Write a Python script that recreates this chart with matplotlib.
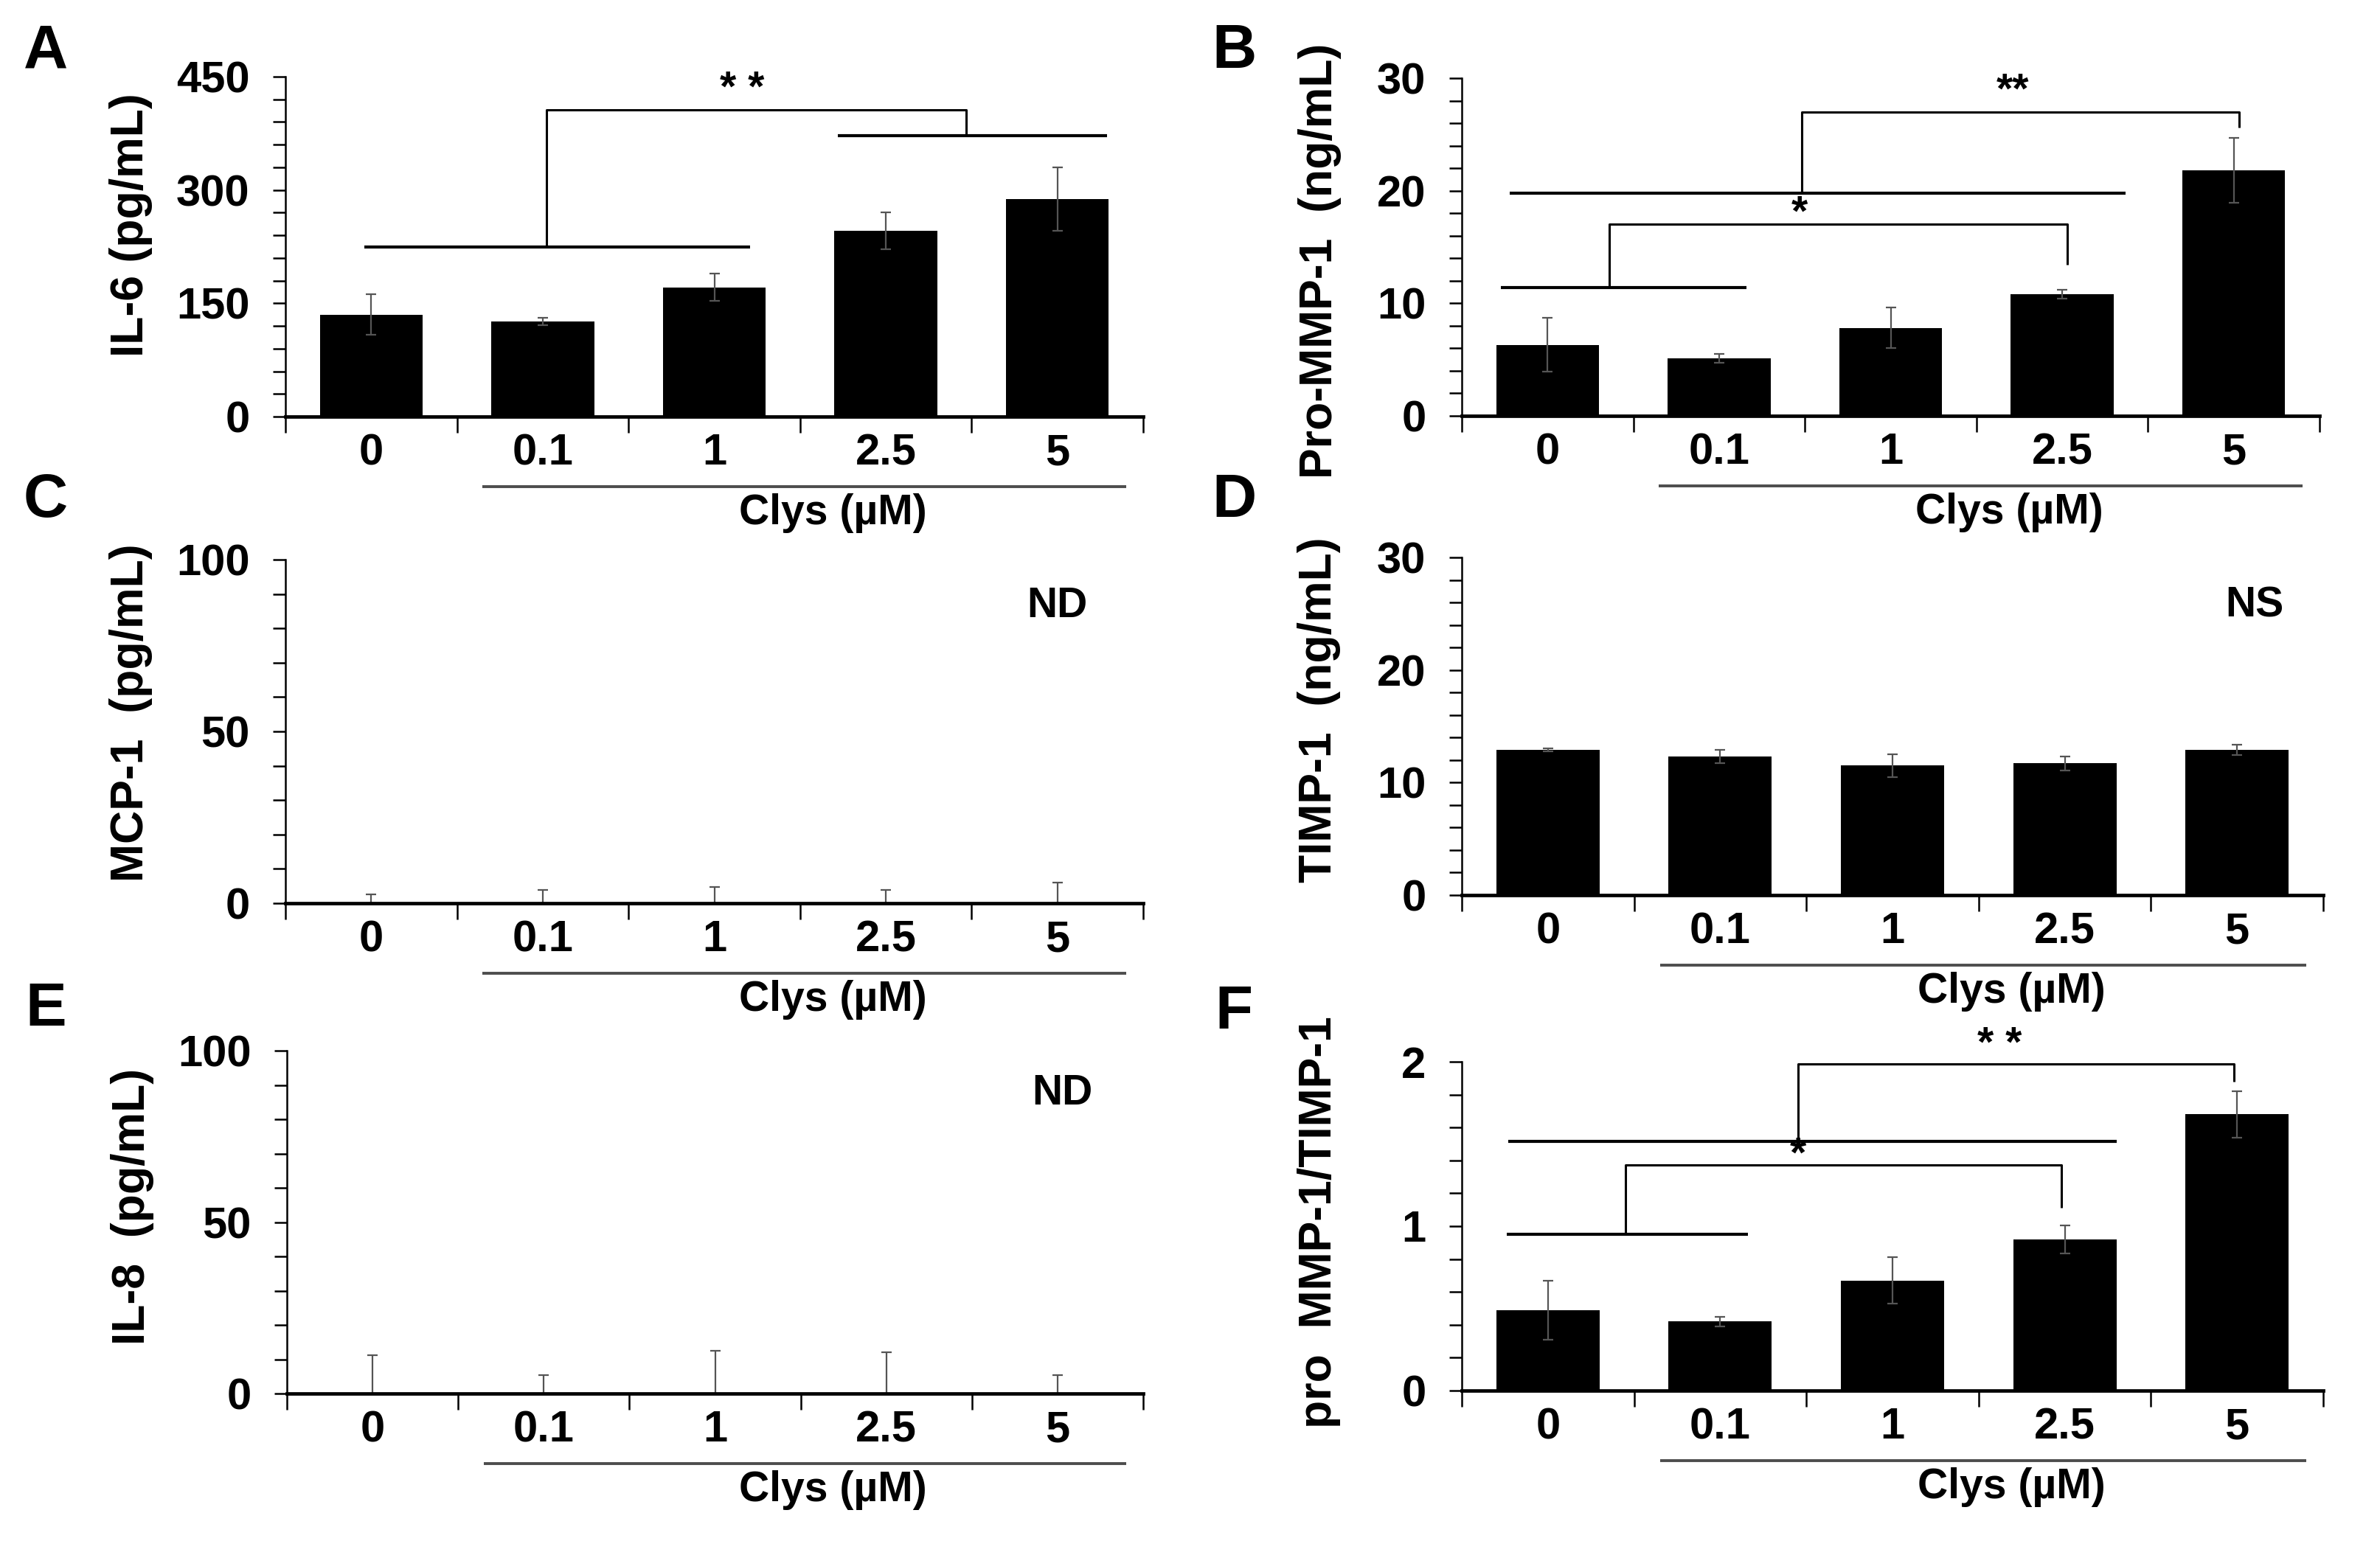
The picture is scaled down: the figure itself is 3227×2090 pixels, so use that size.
import matplotlib
matplotlib.use("Agg")
import matplotlib.pyplot as plt
import numpy as np
from matplotlib.transforms import ScaledTranslation

plt.rcParams['font.family'] = ['Liberation Sans', 'DejaVu Sans']
plt.rcParams['font.weight'] = 'bold'

categories = ["0", "0.1", "1", "2.5", "5"]

il6 = [135, 126, 171, 246, 288]
il6_err = [27, 5, 18, 24, 42]

pro_mmp1 = [6.3, 5.1, 7.8, 10.8, 21.8]
pro_mmp1_err = [2.4, 0.4, 1.8, 0.4, 2.9]

mcp1 = [0, 0, 0, 0, 0]
mcp1_err = [2.6, 3.9, 4.7, 3.9, 6.0]

timp1 = [12.9, 12.3, 11.5, 11.7, 12.9]
timp1_err = [0.15, 0.6, 1.0, 0.6, 0.45]

il8 = [0, 0, 0, 0, 0]
il8_err = [11.1, 5.3, 12.5, 12.0, 5.3]

ratio = [0.49, 0.42, 0.67, 0.92, 1.68]
ratio_err = [0.18, 0.03, 0.14, 0.085, 0.14]

W, H = 3227, 2090
fig = plt.figure(figsize=(W / 100, H / 100), dpi=100)


def make_ax(left, right, top, bottom):
    return fig.add_axes([left / W, 1 - bottom / H, (right - left) / W, (bottom - top) / H])


TFS = 43   # tick labels
LFS = 45   # y labels
AFS = 41   # annotations / Clys
x = np.arange(len(categories))


def setup(ax, vals, errs, ymax, step, label_every, ylabel, label_x, label_y, letter,
          letter_pos, one_sided=False, fmt="{:g}"):
    ax.bar(x, vals, width=0.6, color='black', zorder=2)
    if one_sided:
        yerr = [np.zeros(len(errs)), errs]
    else:
        yerr = errs
    ax.errorbar(x, vals, yerr=yerr, fmt='none', ecolor='#555555', elinewidth=1.6,
                capsize=5, capthick=1.6, zorder=3)
    ax.set_xlim(-0.5, 4.5)
    ax.set_ylim(0, ymax)
    for s in ['top', 'right']:
        ax.spines[s].set_visible(False)
    ax.spines['left'].set_linewidth(1.8)
    ax.spines['bottom'].set_linewidth(3.4)
    ax.spines['bottom'].set_zorder(4)
    ticks = np.round(np.arange(0, ymax + step / 2, step), 6)
    ax.set_yticks(ticks)
    labels = []
    for t in ticks:
        r = t / label_every
        if abs(r - round(r)) < 1e-6:
            labels.append(fmt.format(t))
        else:
            labels.append("")
    ax.set_yticklabels(labels, fontsize=TFS, fontweight='bold')
    ax.tick_params(axis='y', direction='out', length=12, width=1.8, pad=23)
    ax.set_xticks(np.arange(-0.5, 5, 1.0))
    ax.set_xticklabels([""] * 6)
    ax.set_xticks(x, minor=True)
    ax.set_xticklabels(categories, minor=True, fontsize=TFS, fontweight='bold')
    ax.tick_params(axis='x', which='major', direction='out', length=16, width=1.8)
    ax.tick_params(axis='x', which='minor', length=0, pad=16)
    ax.set_ylabel(ylabel, fontsize=LFS, fontweight='bold')
    ax.yaxis.set_label_coords(label_x, label_y)
    # Clys group line and label
    trans_line = ax.get_xaxis_transform() + ScaledTranslation(0, -0.95, fig.dpi_scale_trans)
    ax.plot([0.65, 4.4], [0, 0], transform=trans_line, color='#4d4d4d', lw=2.8,
            clip_on=False, solid_capstyle='butt')
    trans_txt = ax.get_xaxis_transform() + ScaledTranslation(0, -1.31, fig.dpi_scale_trans)
    ax.text(2.69, 0, "Clys (µM)", transform=trans_txt, ha='center', va='center',
            fontsize=AFS, fontweight='bold')
    fig.text(letter_pos[0] / W, 1 - letter_pos[1] / H, letter, fontsize=60,
             fontweight='bold', ha='center', va='center')


def line(ax, xs, ys, lw=2.0):
    ax.plot(xs, ys, color='black', lw=lw, clip_on=False, zorder=5, solid_capstyle='butt')


LX_LEFT = -0.155
LX_RIGHT = -0.14

# Panel A
axA = make_ax(387, 1550, 104, 565)
setup(axA, il6, il6_err, 450, 30, 150, "IL-6 (pg/mL)", LX_LEFT, 0.564, "A", (62, 70))
line(axA, [-0.04, 2.21], [225, 225], lw=3.0)
line(axA, [1.02, 1.02, 3.47, 3.47], [225, 406, 406, 372], lw=2.2)
line(axA, [2.72, 4.29], [372, 372], lw=3.0)
axA.text(2.16, 432, "* *", ha='center', va='center', fontsize=AFS, fontweight='bold')

# Panel B
axB = make_ax(1982, 3145, 106, 564)
setup(axB, pro_mmp1, pro_mmp1_err, 30, 2, 10, "Pro-MMP-1  (ng/mL)", LX_RIGHT, 0.46, "B",
      (1673, 70))
line(axB, [-0.27, 1.16], [11.4, 11.4], lw=3.0)
line(axB, [0.36, 0.36, 3.03, 3.03], [11.4, 17.0, 17.0, 13.4], lw=2.2)
axB.text(1.47, 17.9, "*", ha='center', va='center', fontsize=AFS, fontweight='bold')
line(axB, [-0.22, 3.37], [19.8, 19.8], lw=3.0)
line(axB, [1.48, 1.48, 4.03, 4.03], [19.8, 27.0, 27.0, 25.6], lw=2.2)
axB.text(2.71, 28.8, "**", ha='center', va='center', fontsize=AFS, fontweight='bold')

# Panel C
axC = make_ax(387, 1550, 759, 1225)
setup(axC, mcp1, mcp1_err, 100, 10, 50, "MCP-1  (pg/mL)", LX_LEFT, 0.554, "C", (62, 679),
      one_sided=True)
axC.text(4.0, 86.5, "ND", ha='center', va='center', fontsize=AFS, fontweight='bold')

# Panel D
axD = make_ax(1982, 3150, 756, 1214)
setup(axD, timp1, timp1_err, 30, 2, 10, "TIMP-1  (ng/mL)", LX_RIGHT, 0.548, "D", (1673, 679))
axD.text(4.1, 25.7, "NS", ha='center', va='center', fontsize=AFS, fontweight='bold')

# Panel E
axE = make_ax(389, 1550, 1425, 1890)
setup(axE, il8, il8_err, 100, 10, 50, "IL-8  (pg/mL)", LX_LEFT, 0.546, "E", (62, 1369),
      one_sided=True)
axE.text(4.03, 87.5, "ND", ha='center', va='center', fontsize=AFS, fontweight='bold')

# Panel F
axF = make_ax(1982, 3150, 1440, 1886)
setup(axF, ratio, ratio_err, 2, 0.2, 1, "pro  MMP-1/TIMP-1", LX_RIGHT, 0.513, "F",
      (1673, 1373))
line(axF, [-0.24, 1.16], [0.95, 0.95], lw=3.0)
line(axF, [0.45, 0.45, 2.98, 2.98], [0.95, 1.37, 1.37, 1.11], lw=2.2)
axF.text(1.45, 1.43, "*", ha='center', va='center', fontsize=AFS, fontweight='bold')
line(axF, [-0.23, 3.3], [1.515, 1.515], lw=3.0)
line(axF, [1.45, 1.45, 3.98, 3.98], [1.515, 1.985, 1.985, 1.88], lw=2.2)
axF.text(2.62, 2.10, "* *", ha='center', va='center', fontsize=AFS, fontweight='bold')

fig.savefig("out.png", dpi=100)
